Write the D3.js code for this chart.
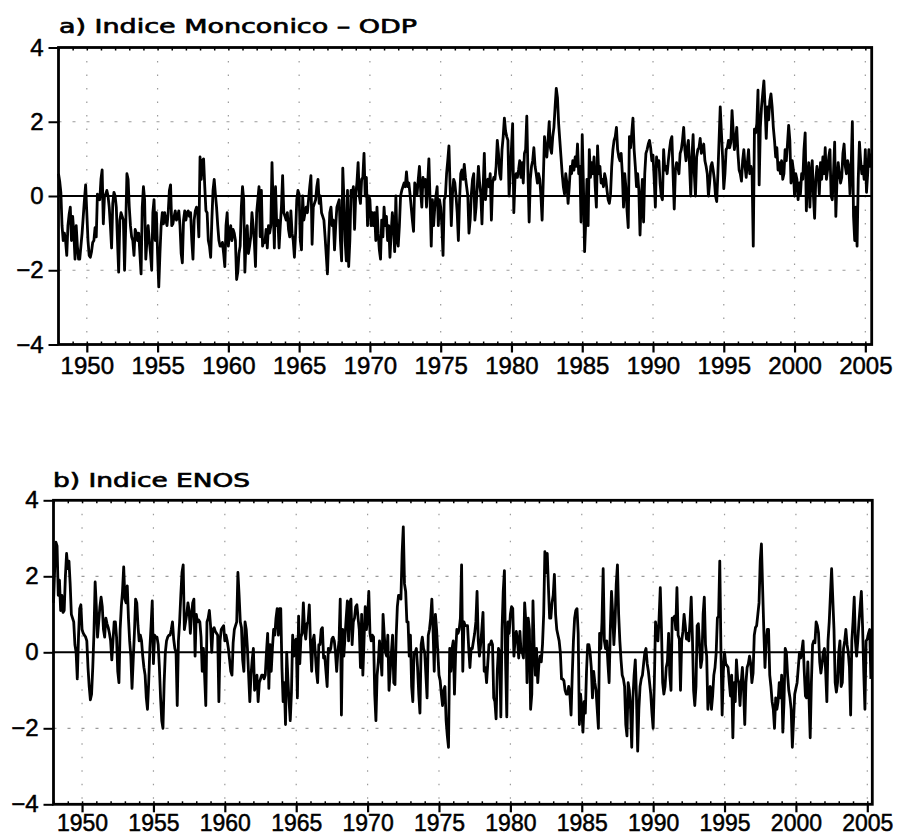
<!DOCTYPE html>
<html>
<head>
<meta charset="utf-8">
<script src="https://cdn.jsdelivr.net/npm/d3@7"></script>
<style>
  html, body { margin: 0; padding: 0; background: #fff; }
  svg { display: block; }
</style>
</head>
<body>
<svg id="chart" width="899" height="835"></svg>
<script>
// ---------------- DATA (monthly values, starting January 1948) ----------------
const startYear = 1948;

const monsoonODP = [
  0.6,0.4,0.1,-0.8,-1.2,-1.0,-1.2,-1.6,-0.8,-0.5,-0.3,-1.2,        // 1948
  -0.55,-1.0,-1.7,-0.8,-1.35,-1.7,-1.7,-1.35,-1.0,-0.55,-0.1,0.3,  // 1949
  -0.45,-1.2,-1.6,-1.65,-1.5,-1.25,-1.2,-0.85,-1.1,0.05,0.0,-0.1,  // 1950
  0.45,0.7,-0.75,0.0,0.05,0.15,0.0,-0.3,-0.8,-1.4,-0.2,0.1,        // 1951
  0.0,-0.3,-1.2,-2.05,-0.65,-0.45,-0.55,-0.65,-2.0,-0.8,0.6,0.45,  // 1952
  -0.3,-0.8,-1.1,-1.2,-1.6,-0.9,-1.0,-1.2,-1.0,-1.55,-2.1,-0.3,    // 1953
  0.25,-0.1,-1.7,-1.2,-0.8,-1.2,-1.55,-2.0,-0.45,-0.1,-1.2,-0.45,  // 1954
  -1.55,-2.45,-1.55,-0.8,-0.45,-0.75,-0.45,-0.65,-0.8,-0.45,0.15,0.3, // 1955
  -0.8,-0.75,-0.55,-0.4,-0.65,-0.55,-0.4,-0.8,-1.55,-1.8,-0.65,-0.4, // 1956
  -0.65,-0.45,-0.4,-0.55,-0.45,-1.2,-1.7,-0.65,-0.4,-0.3,-0.45,-1.1, // 1957
  1.05,0.45,0.95,1.0,0.25,-0.4,-0.45,-1.2,-1.35,-1.65,-0.65,0.15,  // 1958
  0.45,0.05,-0.3,-0.8,-1.2,-1.35,-1.35,-1.25,-1.55,-1.9,-0.8,-0.45, // 1959
  -1.35,-1.0,-0.8,-1.2,-0.9,-1.0,-1.2,-2.25,-2.05,-1.55,-1.35,-0.3, // 1960
  0.25,-0.1,-2.05,-1.2,-0.8,-1.55,-1.35,-1.1,-0.45,-0.8,-1.2,-1.9, // 1961
  -0.45,-0.1,0.25,-1.1,0.15,-1.35,-1.2,-1.25,-0.9,-1.4,-0.8,-1.0,  // 1962
  -0.8,0.9,-0.3,-1.4,0.25,-0.8,-0.65,-1.4,-0.8,-0.3,0.55,-0.45,    // 1963
  -0.55,-0.65,-0.45,-0.9,-1.1,-0.4,-1.0,-1.2,-1.65,-1.0,-0.1,0.15, // 1964
  0.05,-1.2,-1.45,0.0,-0.65,-0.45,-0.3,-0.45,-0.1,0.25,0.55,-1.3,  // 1965
  -0.3,-0.2,-0.1,0.25,0.45,-0.2,0.0,-0.45,-0.55,-0.65,-1.1,-1.6,   // 1966
  -2.1,-1.2,-0.45,-0.3,-0.8,-0.65,-1.45,-0.8,-0.3,-0.2,-0.1,-1.2,  // 1967
  -1.75,0.75,-0.1,-1.2,-1.75,0.15,-1.9,-1.2,0.15,0.05,0.25,-0.9,   // 1968
  0.05,0.35,0.9,0.0,-0.2,0.45,0.5,1.15,0.0,0.5,-0.8,0.0,           // 1969
  -0.1,-0.8,-0.45,-0.8,-0.45,-1.2,-0.3,-1.0,-1.45,-1.7,-0.65,-1.1, // 1970
  -0.3,-0.8,-0.55,-1.2,-0.8,-1.65,-1.0,-0.45,-0.8,-1.5,0.0,-1.2,   // 1971
  -1.35,-0.8,0.0,0.15,0.25,0.35,0.25,0.65,0.25,0.35,0.05,-0.3,     // 1972
  -0.65,-0.95,0.35,0.25,0.05,0.45,0.8,0.15,-0.3,0.5,0.25,0.45,     // 1973
  -0.3,0.35,1.0,-0.1,-1.35,-0.1,-0.8,-0.3,0.0,0.25,-0.8,-0.1,      // 1974
  -0.3,-0.8,-1.6,-0.1,0.0,0.6,0.95,1.35,0.25,-0.8,0.05,0.45,       // 1975
  0.35,0.0,-0.45,-1.2,-0.1,0.6,0.7,0.45,0.85,0.5,0.25,0.0,         // 1976
  -1.0,-0.65,0.05,0.45,0.6,-0.65,-0.3,0.25,0.8,0.35,0.05,-0.75,    // 1977
  0.25,1.15,-0.1,0.35,0.45,0.25,0.6,-0.65,0.35,0.5,0.45,0.8,       // 1978
  1.5,1.15,0.6,0.45,1.25,1.6,2.1,1.75,1.6,1.5,0.0,0.6,             // 1979
  1.3,1.95,-0.45,0.45,0.6,0.5,0.7,0.95,0.5,0.9,0.35,1.15,          // 1980
  1.25,2.15,0.6,-0.7,0.45,0.8,0.95,1.3,0.8,0.6,0.35,0.6,           // 1981
  0.45,0.0,-0.65,0.45,1.6,1.25,1.05,1.5,2.0,1.3,1.15,1.6,          // 1982
  1.85,2.4,2.9,2.65,1.95,1.5,1.05,0.6,0.25,0.05,0.6,0.35,          // 1983
  -0.2,0.25,0.8,0.6,0.95,0.7,1.05,0.8,1.4,0.6,0.8,-0.7,            // 1984
  1.65,0.35,-1.5,-0.65,0.45,-0.8,1.25,0.5,0.9,0.6,1.05,0.25,       // 1985
  -0.3,1.35,0.6,0.8,0.35,0.45,0.25,0.6,0.45,0.15,-0.1,-0.2,        // 1986
  0.05,0.8,1.25,1.5,1.6,1.85,1.25,1.05,0.95,1.15,0.6,-0.3,         // 1987
  0.6,0.25,-0.4,-0.85,1.6,1.3,1.7,2.1,1.25,0.8,0.25,0.6,           // 1988
  0.15,-1.05,-0.1,0.45,-0.7,0.6,1.15,1.25,1.4,1.5,1.3,0.95,        // 1989
  1.1,0.45,-0.3,1.05,0.8,0.95,0.35,0.0,-0.1,1.25,0.7,0.8,          // 1990
  0.6,0.95,1.25,1.5,1.6,0.6,-0.35,0.7,0.9,0.8,0.6,1.15,            // 1991
  1.25,1.5,1.85,1.25,0.95,1.3,1.5,0.8,0.0,1.05,1.65,0.6,           // 1992
  0.0,1.05,1.25,1.3,1.55,1.15,1.25,1.4,0.95,0.8,0.6,0.0,           // 1993
  0.35,0.8,0.9,0.7,0.45,0.0,-0.15,0.6,1.5,2.4,1.7,1.05,            // 1994
  0.2,0.6,1.25,1.3,1.5,1.3,1.45,2.3,1.75,1.25,1.5,1.85,            // 1995
  1.15,0.7,0.6,0.4,0.95,1.25,0.8,0.5,0.9,1.25,0.6,0.8,             // 1996
  0.6,-1.35,1.8,1.7,1.95,2.85,0.3,1.85,2.4,2.75,3.1,2.4,           // 1997
  1.55,2.4,2.05,2.55,2.75,2.4,1.85,1.5,1.05,1.3,0.7,0.9,           // 1998
  0.6,0.95,0.45,0.6,1.25,0.95,1.4,1.9,1.5,0.35,0.95,0.7,           // 1999
  0.0,0.6,0.45,-0.1,0.35,0.05,0.6,0.45,1.25,1.7,-0.4,0.45,         // 2000
  0.9,-0.3,0.6,0.95,0.0,-0.6,0.45,0.8,0.6,0.05,0.9,0.45,           // 2001
  1.05,0.6,1.3,0.45,0.7,1.05,1.25,0.0,-0.1,0.6,1.45,-0.55,         // 2002
  0.45,0.9,0.6,0.35,0.5,1.15,1.4,0.8,0.6,0.95,0.8,0.05,            // 2003
  0.8,2.0,-0.55,-1.2,-0.3,-1.35,0.45,1.45,0.95,0.6,0.8,0.45,       // 2004
  1.25,0.1,0.6,1.25,0.8,1.15                                       // 2005
];

const ensoIndex = [
  1.3,2.2,2.9,2.8,1.5,1.9,1.1,1.5,1.05,1.1,2.0,2.6,                // 1948
  2.2,2.4,1.8,1.0,0.9,0.8,0.2,0.0,-0.7,0.4,1.15,1.25,              // 1949
  0.6,0.5,0.45,0.4,0.3,-0.4,-0.9,-1.25,-1.1,-0.4,0.5,1.85,         // 1950
  1.2,0.4,0.8,1.2,1.45,1.2,0.6,0.4,0.9,0.75,0.65,0.5,              // 1951
  0.3,-0.2,0.3,0.8,0.8,0.4,-0.5,-0.8,0.6,1.2,1.6,2.25,             // 1952
  1.4,1.3,1.75,0.9,0.3,-0.1,-0.95,-0.2,0.5,1.4,1.3,0.7,            // 1953
  0.3,0.45,0.3,-0.1,-0.4,-0.6,-1.2,-1.5,-0.8,0.1,0.7,1.35,         // 1954
  -0.3,0.45,0.4,0.4,0.2,-0.4,-1.2,-1.8,-2.0,-0.8,0.0,0.3,          // 1955
  0.4,0.45,0.45,0.6,0.8,0.35,0.1,0.0,-1.4,0.3,0.8,1.5,             // 1956
  2.1,2.3,0.6,0.8,1.0,1.3,1.1,0.5,0.95,1.3,1.4,-0.1,               // 1957
  1.0,0.8,0.85,0.8,0.4,-0.5,0.1,-0.6,-1.4,0.8,0.9,1.1,             // 1958
  0.7,0.0,0.6,0.65,0.55,0.5,0.45,-1.3,0.3,0.6,0.65,0.7,            // 1959
  0.3,0.45,0.3,0.1,-0.2,-0.5,-0.6,0.25,0.6,0.7,0.8,2.1,            // 1960
  1.5,0.8,0.65,-0.2,-0.5,0.8,0.6,0.1,-0.6,-1.3,-0.6,-0.2,          // 1961
  0.1,-1.0,-0.8,-0.6,-1.3,-0.8,-0.7,-0.6,-0.6,-0.7,-0.6,0.0,       // 1962
  0.5,-0.95,0.2,-0.5,0.1,0.6,0.45,0.9,1.15,0.45,1.15,1.15,         // 1963
  -0.4,-1.3,-0.8,-1.9,0.0,-0.7,-1.3,-1.8,-1.05,0.45,-0.1,0.3,      // 1964
  0.35,-1.2,0.95,-0.3,0.4,0.5,1.3,0.6,0.35,0.75,0.8,1.25,          // 1965
  0.2,-0.5,0.3,0.45,0.0,-0.5,-0.8,0.2,0.2,0.6,0.65,-0.15,          // 1966
  -0.1,-0.5,-0.9,0.1,0.0,0.1,0.35,0.4,0.3,0.0,-0.5,0.0,            // 1967
  0.3,1.4,-1.65,0.6,-0.1,0.4,0.9,1.35,0.3,1.3,1.4,0.2,             // 1968
  0.8,0.9,1.2,1.25,0.9,0.6,-0.4,1.0,-0.6,0.3,1.2,0.6,              // 1969
  0.9,1.6,0.5,0.3,0.45,0.4,-1.1,-1.8,-0.6,-0.25,0.3,-0.1,          // 1970
  -0.6,1.0,0.45,0.0,-0.1,0.45,-1.0,-0.5,0.0,0.45,-0.8,-0.85,       // 1971
  0.4,1.2,1.5,1.5,1.4,2.6,3.3,1.8,1.6,0.8,0.8,-0.1,                // 1972
  0.45,-0.9,-1.3,0.0,0.0,0.1,-0.4,-1.1,-1.6,0.2,0.4,0.1,           // 1973
  0.0,-0.6,-1.2,0.45,0.6,0.9,1.4,0.6,-0.5,1.0,0.6,0.0,             // 1974
  -0.6,-0.75,-1.1,-1.4,-1.0,-0.9,-1.8,-2.2,-2.5,0.1,-0.5,0.1,      // 1975
  0.3,-1.1,0.0,0.6,0.5,0.6,0.9,2.3,-0.5,0.8,0.7,0.7,               // 1976
  0.7,0.1,-0.4,0.1,0.1,0.3,0.5,0.8,1.6,0.3,-0.1,0.2,               // 1977
  0.6,1.05,-0.5,-0.4,-0.8,-0.3,0.2,0.2,0.3,0.2,-1.2,-1.3,          // 1978
  -1.75,-0.5,0.1,0.0,-1.7,0.6,1.6,2.15,-0.3,-1.7,0.8,0.5,          // 1979
  1.0,1.2,1.15,-0.1,0.35,0.55,0.3,-0.15,0.55,0.0,0.0,-0.15,        // 1980
  1.3,0.8,-0.8,0.9,0.6,-1.5,-1.1,1.35,0.1,-0.6,0.1,-0.8,           // 1981
  -0.3,-0.1,-0.25,0.2,1.0,2.65,2.1,2.6,1.7,0.9,0.9,1.3,            // 1982
  1.5,2.05,1.0,0.6,0.45,0.3,0.0,-0.7,-0.7,-0.75,-1.0,-1.1,         // 1983
  -1.1,-0.9,-1.1,-1.65,-0.6,0.3,0.9,1.1,1.15,0.5,-1.9,-1.1,        // 1984
  -1.5,-2.1,-1.3,-1.6,-0.5,0.2,0.2,0.0,-0.4,-1.2,-0.5,-0.8,        // 1985
  -1.0,-1.5,-2.0,0.5,0.1,0.8,2.2,0.3,0.1,0.3,-0.3,-0.8,            // 1986
  0.6,1.6,1.0,0.2,0.8,1.8,2.3,1.0,0.3,-0.2,-0.6,-0.7,              // 1987
  -0.9,-1.9,-2.2,-0.8,-1.0,-1.5,-2.5,-1.2,-0.6,-0.2,-1.2,-2.6,     // 1988
  -1.5,-0.9,-0.7,-0.6,-0.3,0.0,0.1,-0.3,-0.5,-0.8,-1.1,-1.6,       // 1989
  -2.0,-0.8,0.8,0.5,0.3,0.9,1.7,0.6,-0.8,-1.1,-0.9,-0.4,           // 1990
  -0.25,0.5,-0.6,-1.0,0.9,0.9,0.95,0.6,1.7,0.45,0.35,-1.0,         // 1991
  0.3,0.55,1.0,0.7,0.35,0.5,0.3,0.8,1.45,0.4,-1.0,-1.4,            // 1992
  -0.9,0.7,0.75,0.2,-0.4,-0.2,1.0,1.45,0.2,-0.1,-1.5,-1.0,         // 1993
  -0.9,-1.5,-1.15,-0.6,-0.4,0.0,0.9,0.95,2.4,0.0,-1.65,-0.5,       // 1994
  0.0,-0.3,-0.35,-0.4,-0.8,-1.15,-0.6,-2.25,-0.8,-1.3,-0.2,-0.7,   // 1995
  -0.8,-1.4,-0.8,-0.4,-0.95,-1.9,-0.8,-0.4,-0.3,-0.1,-0.3,-0.8,    // 1996
  -0.55,0.45,0.65,0.7,1.0,1.3,2.4,2.85,1.7,0.6,-0.4,0.3,           // 1997
  0.6,0.6,-0.6,-0.9,-1.3,-1.5,-2.0,-1.2,-1.5,-1.3,-0.8,-1.2,       // 1998
  -0.6,-2.1,-1.3,0.1,0.0,-0.6,-1.0,-1.2,-1.5,-2.5,-1.8,-1.1,       // 1999
  -0.95,-0.8,-0.4,0.0,-0.15,0.05,0.3,-0.5,-1.15,-1.2,-0.25,-1.2,   // 2000
  -2.25,-0.8,0.2,0.3,0.25,0.8,0.7,0.5,-0.25,-0.55,-0.3,0.0,        // 2001
  0.1,-0.5,-1.3,0.3,0.8,1.5,2.2,1.4,0.6,-0.8,-1.05,-0.8,           // 2002
  0.0,0.3,-0.9,-0.8,0.1,0.3,0.6,0.2,0.0,-0.4,-1.65,0.3,            // 2003
  0.8,1.45,0.3,-0.1,0.3,0.8,1.2,1.6,0.7,-0.5,-1.5,0.3,             // 2004
  0.35,0.5,0.6,-0.7                                                // 2005
];

const xTickYears = [1950,1955,1960,1965,1970,1975,1980,1985,1990,1995,2000,2005];
const yTickValues = [-4,-2,0,2,4];
const yGridValues = [-2,2];
const yDomain = [-4,4];
const panelTitles = ["a) Indice Monconico \u2013 ODP", "b) Indice ENOS"];

// ---------------- LAYOUT ----------------
const panels = [
  { series: monsoonODP, title: panelTitles[0], left: 58.5, right: 871.7, top: 47.5, bottom: 344.5,
    xEnd: 2005.45, titleX: 59, titleY: 33, titleLen: 358, labelPad: 4.5, labelSize: 24 },
  { series: ensoIndex, title: panelTitles[1], left: 53.5, right: 872.3, top: 500.3, bottom: 804.3,
    xEnd: 2005.35, titleX: 53, titleY: 486.5, titleLen: 197, labelPad: 2, labelSize: 23 }
];

const svg = d3.select("#chart");
svg.append("rect").attr("width", 899).attr("height", 835).attr("fill", "#fff");

const minorYears = d3.range(1948, 2006);
const labelFont = "'Liberation Sans', Arial, sans-serif";

panels.forEach(p => {
  const x = d3.scaleLinear().domain([startYear, p.xEnd]).range([p.left, p.right]);
  const y = d3.scaleLinear().domain(yDomain).range([p.bottom, p.top]);
  const g = svg.append("g");

  // grid: vertical dotted lines at labelled years
  g.selectAll("line.vgrid").data(xTickYears).join("line")
    .attr("class", "vgrid")
    .attr("x1", d => x(d)).attr("x2", d => x(d))
    .attr("y1", p.top).attr("y2", p.bottom)
    .attr("stroke", "#9a9a9a").attr("stroke-width", 1.2)
    .attr("stroke-dasharray", "1.5,12");

  // grid: horizontal dashed lines at ±2
  g.selectAll("line.hgrid").data(yGridValues).join("line")
    .attr("class", "hgrid")
    .attr("x1", p.left).attr("x2", p.right)
    .attr("y1", d => y(d)).attr("y2", d => y(d))
    .attr("stroke", "#9a9a9a").attr("stroke-width", 1.2)
    .attr("stroke-dasharray", "3,11");

  // zero line
  g.append("line")
    .attr("x1", p.left).attr("x2", p.right)
    .attr("y1", y(0)).attr("y2", y(0))
    .attr("stroke", "#000").attr("stroke-width", 2);

  // data line
  const pts = p.series.map((v, i) => [startYear + i / 12, v]);
  g.append("path")
    .datum(pts)
    .attr("fill", "none")
    .attr("stroke", "#000")
    .attr("stroke-width", 2.8)
    .attr("stroke-linejoin", "round")
    .attr("d", d3.line().x(d => x(d[0])).y(d => y(d[1])));

  // minor ticks (inward) on bottom and top
  const minorBottom = d3.axisBottom(x).tickValues(minorYears).tickSize(-3).tickFormat("");
  g.append("g").attr("transform", `translate(0,${p.bottom})`).call(minorBottom)
    .call(s => s.select(".domain").remove())
    .selectAll("line").attr("stroke-width", 1.5);
  const minorTop = d3.axisTop(x).tickValues(minorYears).tickSize(-3).tickFormat("");
  g.append("g").attr("transform", `translate(0,${p.top})`).call(minorTop)
    .call(s => s.select(".domain").remove())
    .selectAll("line").attr("stroke-width", 1.5);

  // major x axis
  const xAxis = d3.axisBottom(x).tickValues(xTickYears).tickSize(8).tickPadding(p.labelPad).tickFormat(d3.format("d"));
  const gx = g.append("g").attr("transform", `translate(0,${p.bottom})`).call(xAxis);
  gx.select(".domain").remove();
  gx.selectAll("line").attr("stroke-width", 2.2);
  gx.selectAll("text").attr("font-family", labelFont)
    .attr("font-size", p.labelSize).attr("fill", "#000")
    .attr("stroke", "#000").attr("stroke-width", 0.5);

  // y axis
  const yAxis = d3.axisLeft(y).tickValues(yTickValues).tickSize(10).tickPadding(5).tickFormat(d3.format("d"));
  const gy = g.append("g").attr("transform", `translate(${p.left},0)`).call(yAxis);
  gy.select(".domain").remove();
  gy.selectAll("line").attr("stroke-width", 2);
  gy.selectAll("text").attr("font-family", labelFont)
    .attr("font-size", 24).attr("fill", "#000")
    .attr("stroke", "#000").attr("stroke-width", 0.5);

  // frame
  g.append("rect")
    .attr("x", p.left).attr("y", p.top)
    .attr("width", p.right - p.left).attr("height", p.bottom - p.top)
    .attr("fill", "none").attr("stroke", "#000").attr("stroke-width", 2.8);

  // title
  g.append("text")
    .attr("x", p.titleX).attr("y", p.titleY)
    .attr("font-family", "'DejaVu Sans', sans-serif")
    .attr("font-size", 20)
    .attr("textLength", p.titleLen)
    .attr("lengthAdjust", "spacingAndGlyphs")
    .attr("fill", "#000")
    .attr("stroke", "#000").attr("stroke-width", 0.7)
    .text(p.title);
});
</script>
</body>
</html>
